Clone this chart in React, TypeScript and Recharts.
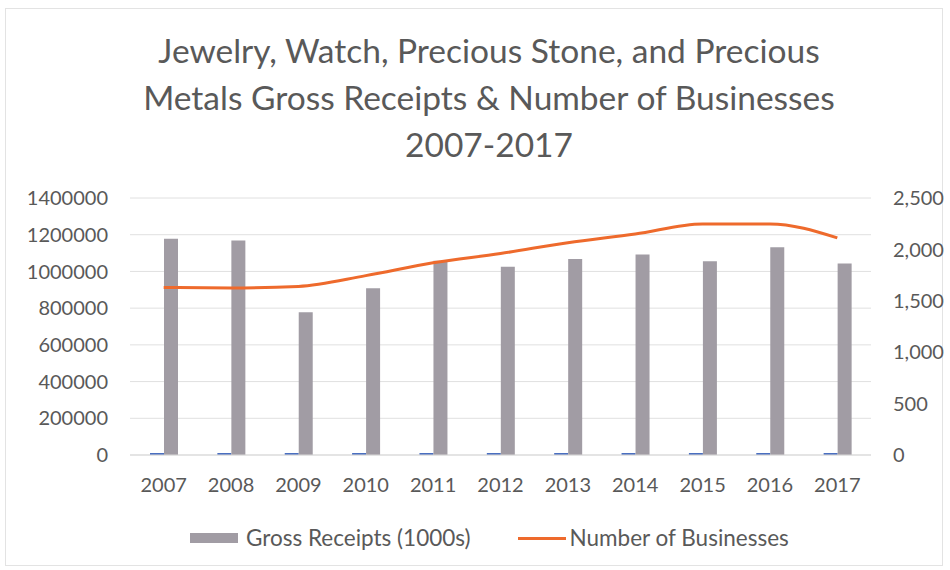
import React from "react";
import {
  ComposedChart,
  Bar,
  Line,
  XAxis,
  YAxis,
  CartesianGrid,
} from "recharts";

// years on the x axis
const years = ["2007", "2008", "2009", "2010", "2011", "2012", "2013", "2014", "2015", "2016", "2017"];
// tiny blue series (year number plotted on the receipts axis)
const yearValues = [2007, 2008, 2009, 2010, 2011, 2012, 2013, 2014, 2015, 2016, 2017];
// gross receipts in 1000s
const grossReceipts = [1178000, 1168000, 778000, 908000, 1058000, 1025000, 1068000, 1092000, 1055000, 1132000, 1043000];
// number of businesses
const businesses = [1630, 1625, 1640, 1745, 1870, 1960, 2065, 2150, 2248, 2248, 2112];

const leftTicks = [0, 200000, 400000, 600000, 800000, 1000000, 1200000, 1400000];
const rightTicks = [0, 500, 1000, 1500, 2000, 2500];

const chartData = years.map((y, i) => ({
  year: y,
  yearValue: yearValues[i],
  receipts: grossReceipts[i],
  businesses: businesses[i],
}));

const FONT = "Lato, 'Open Sans', sans-serif";
const TEXT = "#595959";

export default function App() {
  const tick = { fill: TEXT, fontSize: 20, fontFamily: FONT };

  return (
    <div
      style={{
        position: "absolute",
        left: 0,
        top: 0,
        width: 950,
        height: 570,
        background: "#fff",
        fontFamily: FONT,
      }}
    >
      <div
        style={{
          position: "absolute",
          left: 5,
          top: 8,
          width: 936,
          height: 556,
          border: "1px solid #e3e3e3",
        }}
      />

      {/* 제목 */}
      <div
        style={{
          position: "absolute",
          left: 0,
          top: 27,
          width: 978,
          textAlign: "center",
          color: TEXT,
          fontSize: 33.5,
          lineHeight: "47px",
        }}
      >
        Jewelry, Watch, Precious Stone, and Precious
        <br />
        Metals Gross Receipts &amp; Number of Businesses
        <br />
        2007-2017
      </div>

      <div style={{ position: "absolute", left: 0, top: 0 }}>
        <ComposedChart
          width={950}
          height={570}
          data={chartData}
          margin={{ top: 198, right: 0, bottom: 0, left: 0 }}
          barGap={0}
        >
          <CartesianGrid vertical={false} stroke="#e0e0e0" yAxisId="left" />
          <XAxis
            dataKey="year"
            height={115}
            axisLine={{ stroke: "#d9d9d9" }}
            tickLine={false}
            tickSize={0}
            tickMargin={23}
            tick={tick}
            interval={0}
          />
          <YAxis
            yAxisId="left"
            orientation="left"
            width={130}
            domain={[0, 1400000]}
            ticks={leftTicks}
            axisLine={false}
            tickLine={false}
            tickSize={0}
            tickMargin={22}
            tick={tick}
          />
          <YAxis
            yAxisId="right"
            orientation="right"
            width={79}
            domain={[0, 2500]}
            ticks={rightTicks}
            axisLine={false}
            tickLine={false}
            tickSize={0}
            tickMargin={22}
            tick={tick}
            tickFormatter={(v: number) => v.toLocaleString("en-US")}
          />
          <Bar
            yAxisId="left"
            dataKey="yearValue"
            fill="#4a6fc0"
            barSize={14}
            minPointSize={2}
            legendType="none"
            isAnimationActive={false}
          />
          <Bar
            yAxisId="left"
            dataKey="receipts"
            name="Gross Receipts (1000s)"
            fill="#a19ca4"
            barSize={14}
            isAnimationActive={false}
          />
          <Line
            yAxisId="right"
            type="monotone"
            dataKey="businesses"
            name="Number of Businesses"
            stroke="#ee6a2c"
            strokeWidth={3}
            dot={false}
            isAnimationActive={false}
          />
        </ComposedChart>
      </div>

      {/* 범례 */}
      <div
        style={{
          position: "absolute",
          left: 190,
          top: 525,
          display: "flex",
          alignItems: "center",
          color: TEXT,
          fontSize: 22.5,
          lineHeight: "26px",
        }}
      >
        <div style={{ width: 48, height: 10, background: "#a19ca4", marginRight: 8 }} />
        <span>Gross Receipts (1000s)</span>
        <div style={{ width: 48, height: 3, background: "#ee6a2c", marginLeft: 47, marginRight: 4 }} />
        <span>Number of Businesses</span>
      </div>
    </div>
  );
}
